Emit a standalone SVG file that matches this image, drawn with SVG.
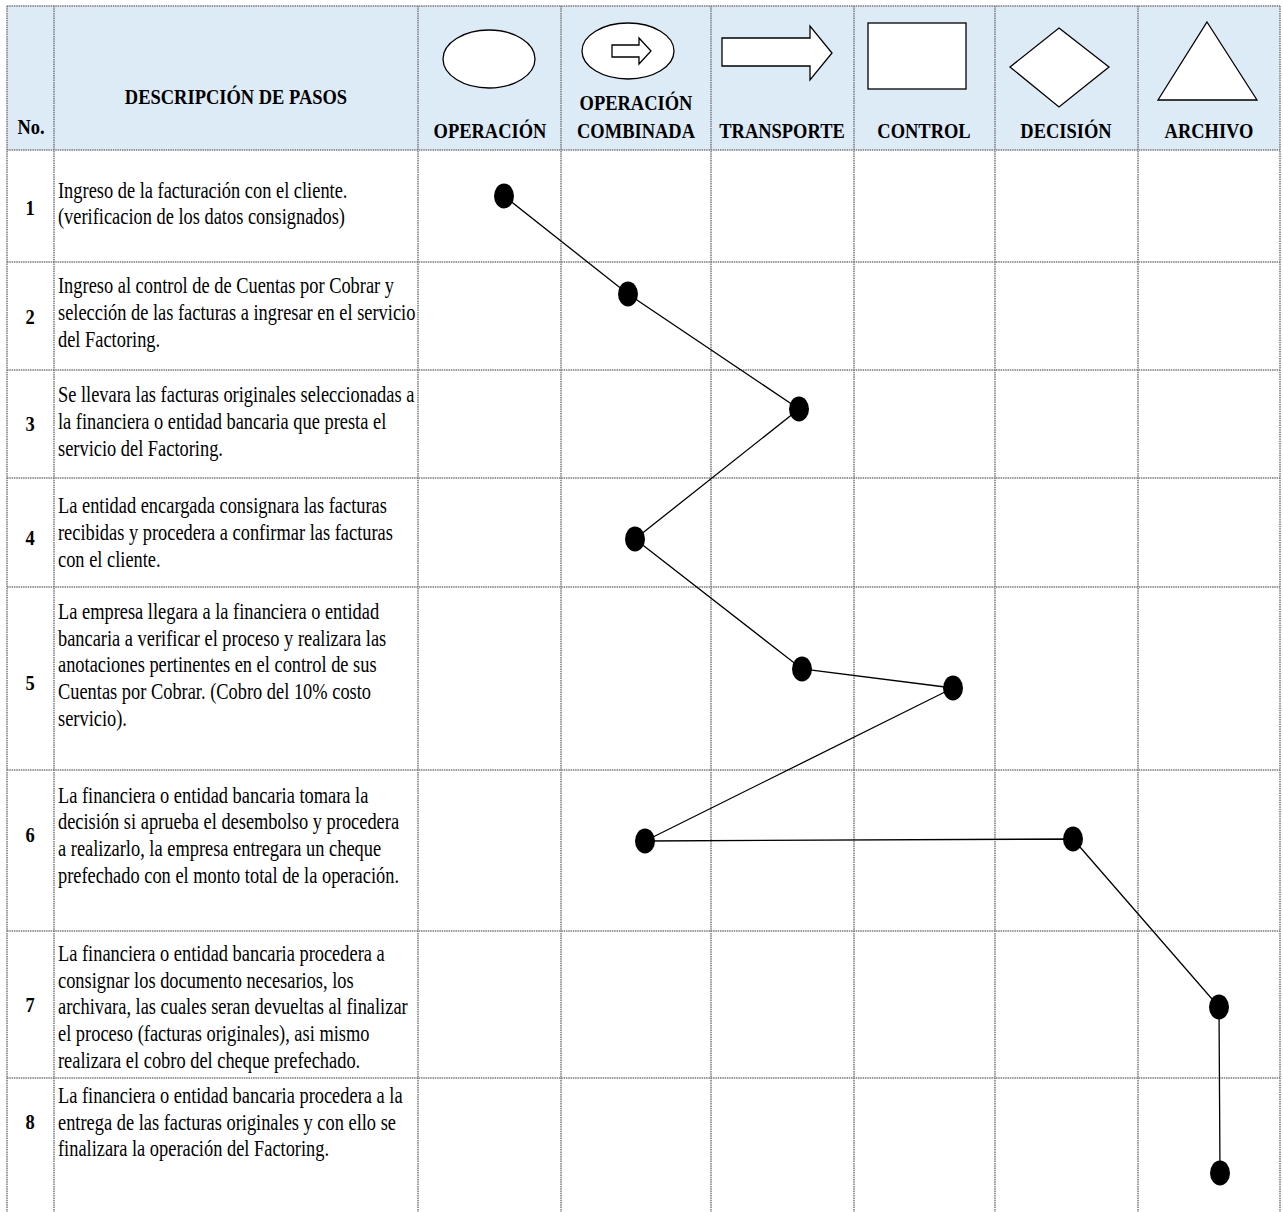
<svg xmlns="http://www.w3.org/2000/svg" width="1283" height="1212" viewBox="0 0 1283 1212">
<style>
.grid{stroke:#7a7a7a;stroke-width:1.5;stroke-dasharray:1.5 0.8;fill:none}
.hdr{font-family:"Liberation Serif","Times New Roman",serif;font-weight:bold;font-size:22px;fill:#000}
.txt{font-family:"Liberation Serif","Times New Roman",serif;font-size:23px;fill:#000}
.sym{fill:#fff;stroke:#000;stroke-width:1.3}
.dot{fill:#000}
.conn{stroke:#000;stroke-width:1.3;fill:none}
</style>
<rect width="1283" height="1212" fill="#fff"/>
<rect x="7" y="6" width="1273" height="144" fill="#DDEBF7"/>
<g id="grid">
<line class="grid" x1="7" y1="6" x2="1280" y2="6"/>
<line class="grid" x1="7" y1="150" x2="1280" y2="150"/>
<line class="grid" x1="7" y1="262" x2="1280" y2="262"/>
<line class="grid" x1="7" y1="370" x2="1280" y2="370"/>
<line class="grid" x1="7" y1="478" x2="1280" y2="478"/>
<line class="grid" x1="7" y1="587" x2="1280" y2="587"/>
<line class="grid" x1="7" y1="770" x2="1280" y2="770"/>
<line class="grid" x1="7" y1="931" x2="1280" y2="931"/>
<line class="grid" x1="7" y1="1078" x2="1280" y2="1078"/>
<line class="grid" x1="7" y1="6" x2="7" y2="1212"/>
<line class="grid" x1="54" y1="6" x2="54" y2="1212"/>
<line class="grid" x1="418" y1="6" x2="418" y2="1212"/>
<line class="grid" x1="561" y1="6" x2="561" y2="1212"/>
<line class="grid" x1="711" y1="6" x2="711" y2="1212"/>
<line class="grid" x1="854" y1="6" x2="854" y2="1212"/>
<line class="grid" x1="995" y1="6" x2="995" y2="1212"/>
<line class="grid" x1="1138" y1="6" x2="1138" y2="1212"/>
<line class="grid" x1="1280" y1="6" x2="1280" y2="1212"/>
</g>
<g id="header">
<g transform="translate(31 0) scale(0.84 1)"><text class="hdr" x="0" y="134" text-anchor="middle">No.</text></g>
<g transform="translate(236 0) scale(0.84 1)"><text class="hdr" x="0" y="104" text-anchor="middle">DESCRIPCIÓN DE PASOS</text></g>
<g id="h-operacion">
<ellipse class="sym" cx="489" cy="59" rx="46" ry="29"/>
<g transform="translate(490 0) scale(0.84 1)"><text class="hdr" x="0" y="138" text-anchor="middle">OPERACIÓN</text></g>
</g>
<g id="h-combinada">
<ellipse class="sym" cx="628" cy="51" rx="46" ry="28"/>
<polygon class="sym" points="612,45 639,45 639,38 651,51 639,64 639,57 612,57"/>
<g transform="translate(636 0) scale(0.84 1)"><text class="hdr" x="0" y="110" text-anchor="middle">OPERACIÓN</text><text class="hdr" x="0" y="138" text-anchor="middle">COMBINADA</text></g>
</g>
<g id="h-transporte">
<polygon class="sym" points="722,38 810,38 810,26 832,53 810,80 810,66 722,66"/>
<g transform="translate(782 0) scale(0.84 1)"><text class="hdr" x="0" y="138" text-anchor="middle">TRANSPORTE</text></g>
</g>
<g id="h-control">
<rect class="sym" x="868" y="23" width="98" height="66"/>
<g transform="translate(924 0) scale(0.84 1)"><text class="hdr" x="0" y="138" text-anchor="middle">CONTROL</text></g>
</g>
<g id="h-decision">
<polygon class="sym" points="1059,28 1109,67 1059,107 1010,67"/>
<g transform="translate(1066 0) scale(0.84 1)"><text class="hdr" x="0" y="138" text-anchor="middle">DECISIÓN</text></g>
</g>
<g id="h-archivo">
<polygon class="sym" points="1207,22 1257,100 1158,100"/>
<g transform="translate(1209 0) scale(0.84 1)"><text class="hdr" x="0" y="138" text-anchor="middle">ARCHIVO</text></g>
</g>
</g>
<g id="numbers">
<g transform="translate(30 0) scale(0.84 1)">
<text class="hdr" x="0" y="215" text-anchor="middle">1</text>
<text class="hdr" x="0" y="324" text-anchor="middle">2</text>
<text class="hdr" x="0" y="431" text-anchor="middle">3</text>
<text class="hdr" x="0" y="545" text-anchor="middle">4</text>
<text class="hdr" x="0" y="690" text-anchor="middle">5</text>
<text class="hdr" x="0" y="842" text-anchor="middle">6</text>
<text class="hdr" x="0" y="1012" text-anchor="middle">7</text>
<text class="hdr" x="0" y="1129" text-anchor="middle">8</text>
</g>
</g>
<g id="descriptions" transform="translate(58 0) scale(0.80 1)">
<g id="step1">
<text class="txt" x="0" y="198">Ingreso de la facturación con el cliente.</text>
<text class="txt" x="0" y="224">(verificacion de los datos consignados)</text>
</g>
<g id="step2">
<text class="txt" x="0" y="293">Ingreso al control de de Cuentas por Cobrar y</text>
<text class="txt" x="0" y="320">selección de las facturas a ingresar en el servicio</text>
<text class="txt" x="0" y="347">del Factoring.</text>
</g>
<g id="step3">
<text class="txt" x="0" y="402">Se llevara las facturas originales seleccionadas a</text>
<text class="txt" x="0" y="429">la financiera o entidad bancaria que presta el</text>
<text class="txt" x="0" y="456">servicio del Factoring.</text>
</g>
<g id="step4">
<text class="txt" x="0" y="513">La entidad encargada consignara las facturas</text>
<text class="txt" x="0" y="540">recibidas y procedera a confirmar las facturas</text>
<text class="txt" x="0" y="567">con el cliente.</text>
</g>
<g id="step5">
<text class="txt" x="0" y="619">La empresa llegara a la financiera o entidad</text>
<text class="txt" x="0" y="646">bancaria a verificar el proceso y realizara las</text>
<text class="txt" x="0" y="672">anotaciones pertinentes en el control de sus</text>
<text class="txt" x="0" y="699">Cuentas por Cobrar. (Cobro del 10% costo</text>
<text class="txt" x="0" y="726">servicio).</text>
</g>
<g id="step6">
<text class="txt" x="0" y="803">La financiera o entidad bancaria tomara la</text>
<text class="txt" x="0" y="829">decisión si aprueba el desembolso y procedera</text>
<text class="txt" x="0" y="856">a realizarlo, la empresa entregara un cheque</text>
<text class="txt" x="0" y="883">prefechado con el monto total de la operación.</text>
</g>
<g id="step7">
<text class="txt" x="0" y="961">La financiera o entidad bancaria procedera a</text>
<text class="txt" x="0" y="988">consignar los documento necesarios, los</text>
<text class="txt" x="0" y="1014">archivara, las cuales seran devueltas al finalizar</text>
<text class="txt" x="0" y="1041">el proceso (facturas originales), asi mismo</text>
<text class="txt" x="0" y="1068">realizara el cobro del cheque prefechado.</text>
</g>
<g id="step8">
<text class="txt" x="0" y="1103">La financiera o entidad bancaria procedera a la</text>
<text class="txt" x="0" y="1130">entrega de las facturas originales y con ello se</text>
<text class="txt" x="0" y="1156">finalizara la operación del Factoring.</text>
</g>
</g>
<g id="connectors">
<polyline class="conn" points="504,196 628,294 799,409 635,539 802,669 953,688 645,841 1073,839 1219,1007 1220,1173"/>
</g>
<g id="dots">
<ellipse id="d1" class="dot" cx="504" cy="196" rx="10" ry="12.5"/>
<ellipse id="d2" class="dot" cx="628" cy="294" rx="10" ry="12.5"/>
<ellipse id="d3" class="dot" cx="799" cy="409" rx="10" ry="12.5"/>
<ellipse id="d4" class="dot" cx="635" cy="539" rx="10" ry="12.5"/>
<ellipse id="d5a" class="dot" cx="802" cy="669" rx="10" ry="12.5"/>
<ellipse id="d5b" class="dot" cx="953" cy="688" rx="10" ry="12.5"/>
<ellipse id="d6a" class="dot" cx="645" cy="841" rx="10" ry="12.5"/>
<ellipse id="d6b" class="dot" cx="1073" cy="839" rx="10" ry="12.5"/>
<ellipse id="d7" class="dot" cx="1219" cy="1007" rx="10" ry="12.5"/>
<ellipse id="d8" class="dot" cx="1220" cy="1173" rx="10" ry="12.5"/>
</g>
</svg>
